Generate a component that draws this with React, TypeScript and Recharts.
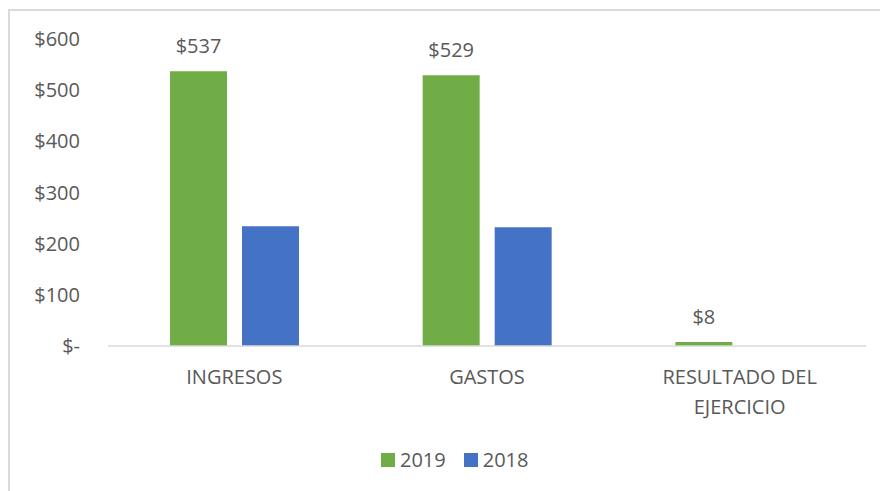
import React from "react";
import { BarChart, Bar, XAxis, YAxis, LabelList } from "recharts";

// categorías y valores
const categories = ["INGRESOS", "GASTOS", "RESULTADO DEL EJERCICIO"];
const values2019 = [537, 529, 8];
const values2018 = [234, 232, 0];
const yTicks = [0, 100, 200, 300, 400, 500, 600];
const seriesNames = ["2019", "2018"];

const data = categories.map((name, i) => ({
  name,
  y2019: values2019[i],
  y2018: values2018[i],
}));

const FONT = "'Open Sans', sans-serif";
const FS = 20;
const TEXT = "#595959";
const GREEN = "#70AD47";
const BLUE = "#4472C4";

const money = (v: number) => (v === 0 ? "$-" : `$${v}`);

// parte la etiqueta en líneas de hasta ~14 caracteres
function wrap(label: string, max = 14) {
  const lines: string[] = [];
  let cur = "";
  for (const w of label.split(" ")) {
    if (cur && (cur + " " + w).length > max) {
      lines.push(cur);
      cur = w;
    } else {
      cur = cur ? cur + " " + w : w;
    }
  }
  if (cur) lines.push(cur);
  return lines;
}

const CategoryTick = (props: any) => {
  const { x, y, payload } = props;
  const lines = wrap(payload.value);
  return (
    <text x={x} y={y} textAnchor="middle" fontSize={FS} fontFamily={FONT} fill={TEXT}>
      {lines.map((l, i) => (
        <tspan key={i} x={x} dy={i === 0 ? 38 : 30}>
          {l}
        </tspan>
      ))}
    </text>
  );
};

export default function App() {
  const colors = [GREEN, BLUE];
  return (
    <div style={{ position: "fixed", left: 0, top: 0, width: 880, height: 491, overflow: "hidden", background: "#fff" }}>
      {/* borde del área del gráfico (se corta a la derecha y abajo) */}
      <div
        style={{
          position: "absolute",
          left: 8,
          top: 9,
          width: 1000,
          height: 1000,
          borderTop: "2px solid #d9d9d9",
          borderLeft: "2px solid #d9d9d9",
        }}
      />
      <BarChart
        width={880}
        height={491}
        data={data}
        margin={{ top: 39, right: 14, left: 0, bottom: 45 }}
        barSize={57}
        barGap={15}
        style={{ position: "absolute", left: 0, top: 0 }}
      >
        <XAxis
          dataKey="name"
          height={100}
          axisLine={{ stroke: "#d9d9d9", strokeWidth: 1.5 }}
          tickLine={false}
          tickSize={0}
          tickMargin={0}
          interval={0}
          tick={<CategoryTick />}
        />
        <YAxis
          width={108}
          domain={[0, 600]}
          ticks={yTicks}
          axisLine={false}
          tickLine={false}
          tickSize={0}
          tickMargin={28}
          tickFormatter={money}
          tick={{ fontSize: FS, fontFamily: FONT, fill: TEXT }}
        />
        <Bar dataKey="y2019" fill={GREEN} isAnimationActive={false}>
          <LabelList
            dataKey="y2019"
            position="top"
            offset={18}
            formatter={(v: any) => money(v)}
            style={{ fontSize: FS, fontFamily: FONT, fill: TEXT }}
          />
        </Bar>
        <Bar dataKey="y2018" fill={BLUE} isAnimationActive={false} />
      </BarChart>
      {/* leyenda */}
      <div
        style={{
          position: "absolute",
          left: 381,
          top: 447,
          display: "flex",
          alignItems: "center",
          fontFamily: FONT,
          fontSize: FS,
          color: TEXT,
          lineHeight: "26px",
        }}
      >
        {seriesNames.map((t, i) => (
          <div key={t} style={{ display: "flex", alignItems: "center", marginRight: 18 }}>
            <span style={{ width: 14, height: 14, background: colors[i], display: "inline-block", marginRight: 5 }} />
            <span>{t}</span>
          </div>
        ))}
      </div>
    </div>
  );
}
